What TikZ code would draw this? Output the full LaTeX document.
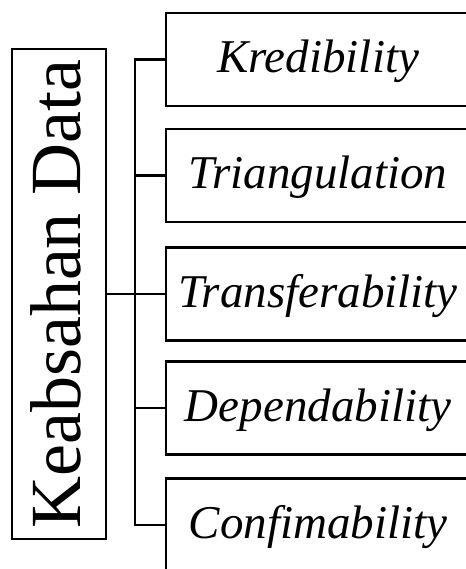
\documentclass[tikz,border=0pt]{standalone}
\usepackage{fontspec}
\setmainfont{Liberation Serif}
\begin{document}
\begin{tikzpicture}[x=1pt,y=-1pt,
  frame/.style={draw=black,line width=2.6pt,fill=white,inner sep=0pt},
  itembox/.style={frame,minimum width=304pt,minimum height=93pt,
    font=\fontsize{47}{56}\selectfont\itshape,
    text height=32pt,text depth=6pt},
  link/.style={draw=black,line width=2.4pt}]
\useasboundingbox (0,0) rectangle (465,569);
\fill[white] (0,0) rectangle (465,569);

% main category box with rotated title
\node[frame,minimum width=94pt,minimum height=490pt] (main) at (59,294) {};
\node[rotate=90,anchor=base,inner sep=0pt,font=\fontsize{72}{80}\selectfont]
  (title) at (80,294) {Keabsahan Data};

% the five criteria
\node[itembox] (k1) at (318,59.5) {Kredibility};
\node[itembox] (k2) at (318,175.5) {Triangulation};
\node[itembox] (k3) at (318,294) {Transferability};
\node[itembox] (k4) at (318,408) {Dependability};
\node[itembox] (k5) at (318,525) {Confimability};

% bracket connecting the title box to the criteria
\coordinate (tr) at (135,294);
\draw[link] (k1.west) -- (k1.west -| tr) -- (k5.west -| tr) -- (k5.west);
\draw[link] (k2.west) -- (k2.west -| tr);
\draw[link] (k3.west) -- (k3.west -| tr);
\draw[link] (k4.west) -- (k4.west -| tr);
\draw[link] (main.east) -- (main.east -| tr);
\end{tikzpicture}
\end{document}
